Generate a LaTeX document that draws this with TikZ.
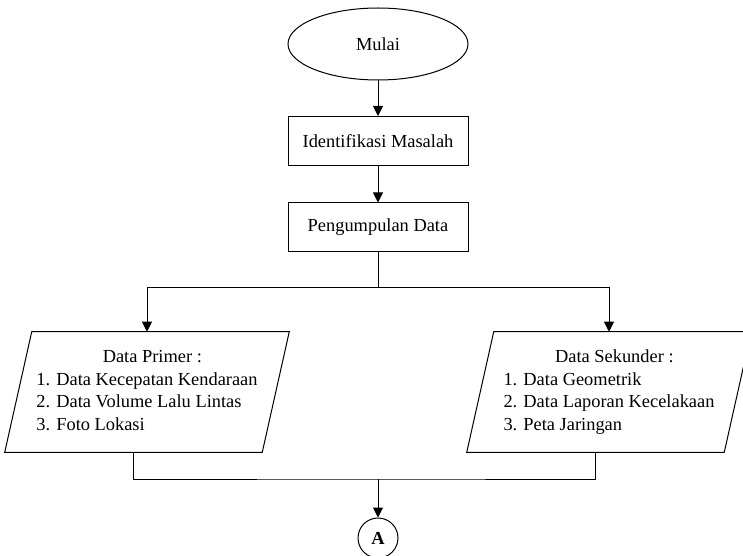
\documentclass[tikz,border=0pt]{standalone}
\usepackage{fontspec}
\setmainfont{Liberation Serif}
\usetikzlibrary{shapes.geometric,arrows.meta}
\begin{document}
\begin{tikzpicture}[x=0.75pt,y=-0.75pt,
  every node/.style={font=\fontsize{13.8}{16.8}\selectfont},
  line/.style={line width=0.75pt},
  arr/.style={line width=0.75pt,-{Triangle[length=7.5pt,width=7.5pt]}},
  procbox/.style={draw,line width=0.75pt,rectangle,minimum width=135pt,minimum height=36.75pt,inner sep=0pt},
  iobox/.style={rectangle,minimum width=213pt,minimum height=90pt,inner sep=0pt}
]
\useasboundingbox (0,0) rectangle (743,556);
\node[draw,line width=0.75pt,ellipse,minimum width=135pt,minimum height=54pt,inner sep=0pt] (mulai) at (378,44) {Mulai};
\node[procbox] (ident) at (378,141) {Identifikasi Masalah};
\node[procbox] (kumpul) at (378,227.5) {Pengumpulan Data};
\node[iobox] (primer) at (147,392) {\begin{tabular}{@{}l@{}}\multicolumn{1}{c}{\hspace{8pt}Data Primer :}\\1. Data Kecepatan Kendaraan\\2. Data Volume Lalu Lintas\\3. Foto Lokasi\end{tabular}};
\node[iobox] (sekunder) at (609,392) {\begin{tabular}{@{}l@{}}\multicolumn{1}{c}{\hspace{8pt}Data Sekunder :}\\1. Data Geometrik\\2. Data Laporan Kecelakaan\\3. Peta Jaringan\end{tabular}};
\draw[line] ([xshift=20.25pt]primer.north west) -- (primer.north east) -- ([xshift=-20.25pt]primer.south east) -- (primer.south west) -- cycle;
\draw[line] ([xshift=20.25pt]sekunder.north west) -- (sekunder.north east) -- ([xshift=-20.25pt]sekunder.south east) -- (sekunder.south west) -- cycle;
\node[draw,line width=0.75pt,circle,minimum size=30pt,inner sep=0pt,font=\fontsize{13.8}{16}\selectfont\bfseries] (A) at (378,538) {A};
\coordinate (split) at (378,287);
\coordinate (join) at (378,479);
\coordinate (pb) at ([xshift=-10.125pt]primer.south);
\coordinate (sb) at ([xshift=-10.125pt]sekunder.south);
\draw[arr] (mulai) -- (ident);
\draw[arr] (ident) -- (kumpul);
\draw[line] (kumpul) -- (split);
\draw[arr] (split) -| (primer.north);
\draw[arr] (split) -| (sekunder.north);
\draw[line] (pb) |- (join) -| (sb);
\draw[arr] (join) -- (A);
\end{tikzpicture}
\end{document}
